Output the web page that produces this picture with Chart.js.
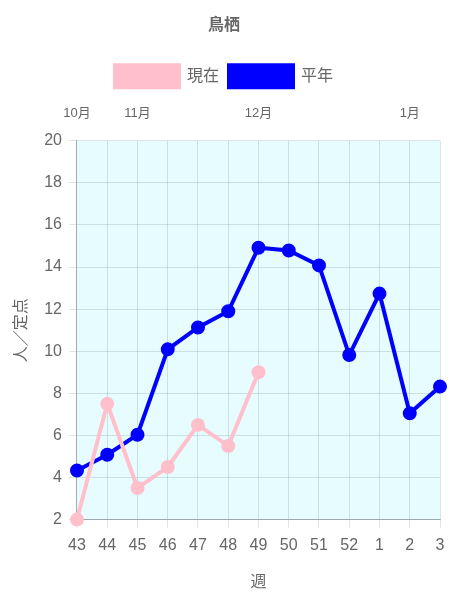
<!DOCTYPE html>
<html>
<head>
<meta charset="utf-8">
<script src="https://cdn.jsdelivr.net/npm/chart.js@4"></script>
<style>
  body { margin: 0; background: #fff; }
  #wrap { width: 450px; height: 600px; }
</style>
</head>
<body>
<div id="wrap"><canvas id="chart"></canvas></div>
<script>
const weeks = ["43", "44", "45", "46", "47", "48", "49", "50", "51", "52", "1", "2", "3"];
const months = ["10月", "", "11月", "", "", "", "12月", "", "", "", "", "1月", ""];
const current = [2, 7.5, 3.5, 4.5, 6.5, 5.5, 9.0, null, null, null, null, null, null];
const normal = [4.33, 5.08, 6.03, 10.09, 11.13, 11.9, 14.92, 14.79, 14.08, 9.82, 12.74, 7.05, 8.32];

// paint the plot area light cyan
const areaBg = {
  id: "areaBg",
  beforeDraw(chart) {
    const { ctx, chartArea } = chart;
    ctx.save();
    ctx.fillStyle = "#e6fcff";
    ctx.fillRect(chartArea.left, chartArea.top, chartArea.right - chartArea.left, chartArea.bottom - chartArea.top);
    ctx.restore();
  },
};

// labels overhang the edges a bit, don't let them squeeze the plot
function noSidePadding(scale) {
  scale.paddingLeft = 0;
  scale.paddingRight = 0;
}

Chart.defaults.font.family = "'Liberation Sans', 'Noto Sans CJK JP', sans-serif";
Chart.defaults.color = "#666";

new Chart(document.getElementById("chart"), {
  type: "line",
  data: {
    labels: weeks,
    datasets: [
      {
        label: "現在",
        data: current,
        borderColor: "pink",
        backgroundColor: "pink",
        borderWidth: 4,
        pointRadius: 5,
        fill: false,
        clip: false,
      },
      {
        label: "平年",
        data: normal,
        borderColor: "blue",
        backgroundColor: "blue",
        borderWidth: 4,
        pointRadius: 5,
        fill: false,
        clip: false,
      },
    ],
  },
  options: {
    responsive: true,
    maintainAspectRatio: false,
    animation: false,
    layout: { padding: { left: 8, right: 10, bottom: 4 } },
    plugins: {
      title: {
        display: true,
        text: "鳥栖",
        font: { size: 16, weight: "bold" },
        padding: { top: 16, bottom: 20 },
      },
      legend: {
        labels: { boxWidth: 64, boxHeight: 22, font: { size: 16 }, padding: 10 },
      },
    },
    scales: {
      x: {
        grid: { color: "rgba(0,40,60,0.13)" },
        border: { color: "rgba(0,0,0,0.25)" },
        ticks: { font: { size: 16 }, maxRotation: 0, autoSkip: false, padding: 8 },
        title: { display: true, text: "週", font: { size: 16 }, padding: { top: 10 } },
        afterFit: noSidePadding,
      },
      x2: {
        type: "category",
        position: "top",
        labels: months,
        grid: { display: true, drawOnChartArea: false, color: "rgba(0,0,0,0)", tickLength: 12 },
        border: { display: false },
        ticks: { font: { size: 13 }, maxRotation: 0, autoSkip: false, padding: 8 },
        afterFit: noSidePadding,
      },
      y: {
        min: 2,
        max: 20,
        ticks: { stepSize: 2, font: { size: 16 }, padding: 7 },
        grid: { color: "rgba(0,40,60,0.13)" },
        border: { color: "rgba(0,0,0,0.25)" },
        title: { display: true, text: "人／定点", font: { size: 16 }, padding: { top: 4, bottom: 6 } },
      },
    },
  },
  plugins: [areaBg],
});
</script>
</body>
</html>
